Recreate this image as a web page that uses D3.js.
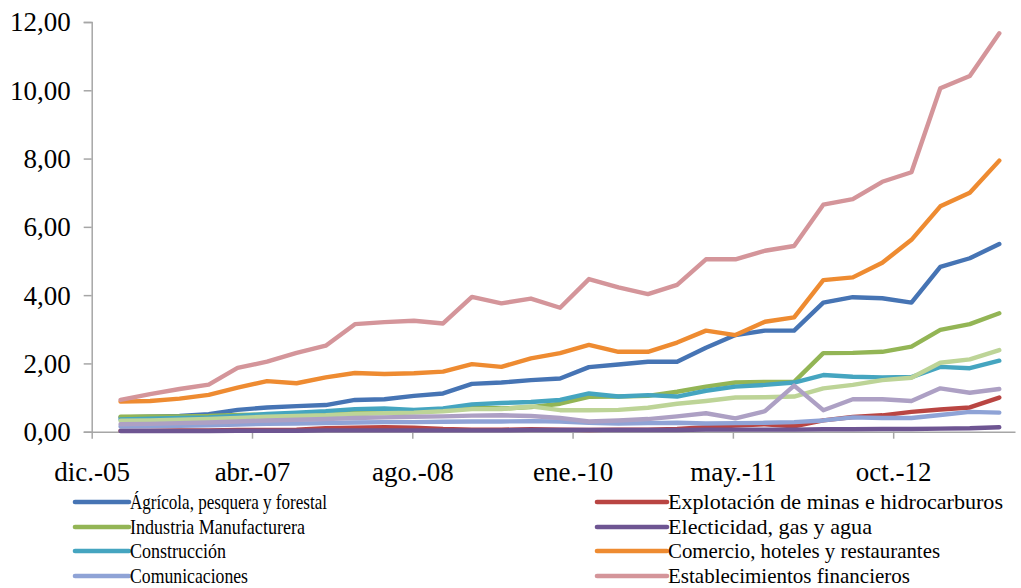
<!DOCTYPE html>
<html>
<head>
<meta charset="utf-8">
<script src="https://cdn.jsdelivr.net/npm/d3@7"></script>
<style>
  html, body { margin: 0; padding: 0; background: #ffffff; }
  svg { display: block; }
  text { font-family: "Liberation Serif", "Times New Roman", serif; fill: #000; }
</style>
</head>
<body>
<svg id="chart" width="1021" height="588"></svg>
<script>
// ---- Data (quarterly) ----
const dates = ["2006-03-01","2006-06-01","2006-09-01","2006-12-01",
  "2007-03-01","2007-06-01","2007-09-01","2007-12-01",
  "2008-03-01","2008-06-01","2008-09-01","2008-12-01",
  "2009-03-01","2009-06-01","2009-09-01","2009-12-01",
  "2010-03-01","2010-06-01","2010-09-01","2010-12-01",
  "2011-03-01","2011-06-01","2011-09-01","2011-12-01",
  "2012-03-01","2012-06-01","2012-09-01","2012-12-01",
  "2013-03-01","2013-06-01","2013-09-01"];

const agricola = [0.42,0.44,0.46,0.51,0.64,0.71,0.75,0.78,0.93,0.95,1.05,1.12,1.40,1.44,1.51,1.56,1.89,1.97,2.05,2.05,2.46,2.83,2.96,2.96,3.78,3.94,3.91,3.78,4.83,5.08,5.50];
const explotacion = [0.03,0.03,0.04,0.04,0.05,0.05,0.06,0.10,0.12,0.13,0.12,0.08,0.06,0.06,0.07,0.06,0.05,0.06,0.06,0.08,0.13,0.18,0.22,0.16,0.33,0.43,0.48,0.58,0.65,0.71,1.00];
const industria = [0.44,0.45,0.45,0.46,0.49,0.50,0.52,0.55,0.60,0.62,0.60,0.64,0.72,0.68,0.72,0.82,1.02,1.03,1.05,1.17,1.32,1.44,1.46,1.46,2.30,2.31,2.34,2.49,2.98,3.15,3.47];
const electricidad = [0.02,0.02,0.02,0.02,0.03,0.03,0.03,0.04,0.04,0.04,0.04,0.04,0.04,0.04,0.05,0.05,0.05,0.05,0.05,0.05,0.06,0.06,0.06,0.06,0.07,0.07,0.08,0.08,0.09,0.10,0.13];
const construccion = [0.36,0.38,0.40,0.42,0.46,0.52,0.56,0.60,0.66,0.68,0.64,0.68,0.80,0.84,0.87,0.93,1.12,1.03,1.07,1.03,1.20,1.32,1.37,1.44,1.66,1.61,1.59,1.60,1.90,1.86,2.08];
const comercio = [0.88,0.90,0.97,1.08,1.29,1.48,1.42,1.59,1.72,1.69,1.71,1.76,1.98,1.90,2.15,2.30,2.54,2.34,2.34,2.61,2.96,2.83,3.22,3.35,4.44,4.52,4.95,5.62,6.60,7.00,7.94];
const comunicaciones = [0.15,0.16,0.17,0.19,0.21,0.23,0.24,0.25,0.27,0.28,0.28,0.29,0.30,0.30,0.31,0.30,0.26,0.24,0.25,0.26,0.24,0.25,0.26,0.28,0.33,0.42,0.40,0.40,0.49,0.58,0.56];
const financieros = [0.93,1.10,1.25,1.38,1.87,2.05,2.31,2.52,3.15,3.21,3.25,3.17,3.95,3.76,3.90,3.63,4.47,4.23,4.03,4.30,5.05,5.05,5.30,5.44,6.65,6.81,7.32,7.60,10.06,10.42,11.67];
const serie9 = [0.32,0.33,0.35,0.37,0.40,0.44,0.46,0.48,0.52,0.54,0.56,0.60,0.66,0.66,0.74,0.63,0.63,0.64,0.70,0.82,0.90,1.00,1.01,1.03,1.27,1.37,1.51,1.58,2.02,2.12,2.39];
const serie10 = [0.22,0.23,0.25,0.27,0.30,0.33,0.35,0.37,0.40,0.42,0.44,0.45,0.47,0.48,0.46,0.40,0.30,0.33,0.37,0.45,0.54,0.39,0.60,1.35,0.63,0.95,0.95,0.90,1.27,1.14,1.25];

const seriesNames = ["Ágrícola, pesquera y forestal","Explotación de minas e hidrocarburos",
  "Industria Manufacturera","Electicidad, gas y agua","Construcción",
  "Comercio, hoteles y restaurantes","Comunicaciones","Establecimientos financieros",
  "Serie 9","Serie 10"];
const seriesValues = [agricola, explotacion, industria, electricidad, construccion,
  comercio, comunicaciones, financieros, serie9, serie10];
const seriesColors = ["#4674B4","#B94542","#93B555","#6E5592","#45A5C0",
  "#EE8B31","#8FA3D6","#D4959A","#BDD497","#ADA0C4"];
const legendCount = 8; // rows beyond the 4th are cut off in the reference

const tickDates = ["2005-12-01","2007-04-15","2008-08-27","2010-01-09","2011-05-24","2012-10-05"];
const tickLabels = ["dic.-05","abr.-07","ago.-08","ene.-10","may.-11","oct.-12"];
const yTicks = [0,2,4,6,8,10,12];
const yTickLabels = ["0,00","2,00","4,00","6,00","8,00","10,00","12,00"];

// ---- Scales ----
const parse = d3.utcParse("%Y-%m-%d");
const x = d3.scaleUtc()
  .domain([parse("2005-12-01"), parse("2013-10-20")])
  .range([91.7, 1015]);
const y = d3.scaleLinear().domain([0, 12]).range([431.7, 22]);

const svg = d3.select("#chart");
const axisColor = "#A6A6A6";

// ---- Y axis ----
const yAxis = svg.append("g").attr("transform", "translate(91.7,0)")
  .call(d3.axisLeft(y).tickValues(yTicks).tickSize(8)
        .tickFormat((d, i) => yTickLabels[i]));
yAxis.select(".domain").attr("stroke", axisColor).attr("stroke-width", 1.5);
yAxis.selectAll(".tick line").attr("stroke", axisColor).attr("stroke-width", 1.5);
yAxis.selectAll(".tick text")
  .attr("x", -21).attr("dy", "0.33em")
  .style("font-family", "'Liberation Serif', serif")
  .style("font-size", "27px").attr("fill", "#000");

// ---- X axis ----
const tickDateObjs = tickDates.map(parse);
const xAxis = svg.append("g").attr("transform", "translate(0,431.7)")
  .call(d3.axisBottom(x).tickValues(tickDateObjs).tickSize(7).tickSizeOuter(0)
        .tickFormat((d, i) => tickLabels[i]));
xAxis.select(".domain").attr("stroke", axisColor).attr("stroke-width", 1.5);
xAxis.selectAll(".tick line").attr("stroke", axisColor).attr("stroke-width", 1.5);
xAxis.selectAll(".tick text")
  .attr("y", 0).attr("dy", null).attr("transform", "translate(0,49)")
  .style("font-family", "'Liberation Serif', serif")
  .style("font-size", "27px").attr("fill", "#000");

// ---- Lines ----
const dateObjs = dates.map(parse);
const line = d3.line()
  .x((d, i) => x(dateObjs[i]))
  .y(d => y(d));

const lines = svg.append("g");
seriesValues.forEach((vals, k) => {
  lines.append("path")
    .datum(vals)
    .attr("d", line)
    .attr("fill", "none")
    .attr("stroke", seriesColors[k])
    .attr("stroke-width", 4.4)
    .attr("stroke-linejoin", "round")
    .attr("stroke-linecap", "round");
});

// ---- Legend ----
const legendCols = [{sx: 75, sw: 54, tx: 130}, {sx: 597, sw: 70, tx: 668}];
const legendRowY = [502, 527, 551, 576];
const legendWidths = [197, 335, 175, 204, 96, 272, 118, 242];
const legend = svg.append("g");
for (let k = 0; k < legendCount; k++) {
  const col = legendCols[k % 2];
  const row = Math.floor(k / 2);
  const cy = legendRowY[row];
  legend.append("line")
    .attr("x1", col.sx).attr("x2", col.sx + col.sw)
    .attr("y1", cy).attr("y2", cy)
    .attr("stroke", seriesColors[k]).attr("stroke-width", 4.6)
    .attr("stroke-linecap", "round");
  legend.append("text")
    .attr("x", col.tx).attr("y", cy + 7)
    .attr("textLength", legendWidths[k])
    .attr("lengthAdjust", "spacingAndGlyphs")
    .style("font-size", "21px")
    .text(seriesNames[k]);
}
</script>
</body>
</html>
